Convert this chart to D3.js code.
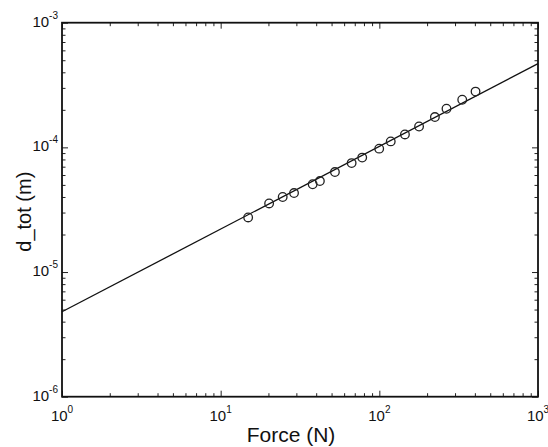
<!DOCTYPE html>
<html>
<head>
<meta charset="utf-8">
<script src="https://cdn.jsdelivr.net/npm/d3@7"></script>
<style>
  body { margin: 0; background: #fff; }
  svg { display: block; }
  text { font-family: "Liberation Sans", Arial, sans-serif; fill: #111; }
</style>
</head>
<body>
<div id="chart"></div>
<script>
// measured points: force (N) vs total displacement (m)
var forceN = [14.9, 20.2, 24.6, 29, 38, 42.2, 52.5, 66.9, 78, 99.8, 118, 145, 178, 224, 265, 333, 404];
var dTot   = [2.74e-5, 3.55e-5, 4.0e-5, 4.3e-5, 5.06e-5, 5.37e-5, 6.34e-5, 7.48e-5, 8.28e-5,
              9.77e-5, 1.117e-4, 1.27e-4, 1.47e-4, 1.75e-4, 2.04e-4, 2.41e-4, 2.8e-4];
// fitted power law line, end points
var fitF = [1, 1000];
var fitD = [4.8e-6, 4.7e-4];
// axis decades
var xDecades = [0, 1, 2, 3];
var yDecades = [-6, -5, -4, -3];

var W = 548, H = 447;
var m = { left: 62, right: 10, top: 22.7, bottom: 50.3 };
var pw = W - m.left - m.right, ph = H - m.top - m.bottom;

var svg = d3.select('#chart').append('svg').attr('width', W).attr('height', H);
var g = svg.append('g').attr('transform', 'translate(' + m.left + ',' + m.top + ')');

var x = d3.scaleLog().domain([1, 1000]).range([0, pw]);
var y = d3.scaleLog().domain([1e-6, 1e-3]).range([ph, 0]);

function minors(dec){
  var out = [];
  for (var i = 0; i < dec.length - 1; i++)
    for (var k = 2; k < 10; k++) out.push(k * Math.pow(10, dec[i]));
  return out;
}
var xMaj = xDecades.map(function(e){ return Math.pow(10, e); });
var yMaj = yDecades.map(function(e){ return Math.pow(10, e); });

function tickAxis(axisFn, scale, vals, len, tr){
  var a = g.append('g').attr('transform', tr || null)
    .call(axisFn(scale).tickValues(vals).tickSize(-len).tickFormat(''));
  a.select('.domain').remove();
  a.selectAll('line').attr('stroke', '#222').attr('stroke-width', 1);
}
tickAxis(d3.axisBottom, x, xMaj, 6, 'translate(0,' + ph + ')');
tickAxis(d3.axisBottom, x, minors(xDecades), 3.5, 'translate(0,' + ph + ')');
tickAxis(d3.axisTop, x, xMaj, 6);
tickAxis(d3.axisTop, x, minors(xDecades), 3.5);
tickAxis(d3.axisLeft, y, yMaj, 6);
tickAxis(d3.axisLeft, y, minors(yDecades), 3.5);
tickAxis(d3.axisRight, y, yMaj, 6, 'translate(' + pw + ',0)');
tickAxis(d3.axisRight, y, minors(yDecades), 3.5, 'translate(' + pw + ',0)');

// frame
g.append('rect').attr('width', pw).attr('height', ph)
  .attr('fill', 'none').attr('stroke', '#111').attr('stroke-width', 1.8);

// tick labels
xDecades.forEach(function(e){
  var t = g.append('text').attr('x', x(Math.pow(10, e))).attr('y', ph + 24)
    .attr('text-anchor', 'middle').style('font-size', '15px');
  t.append('tspan').text('10');
  t.append('tspan').attr('dy', -8).style('font-size', '10px').text(e);
});
yDecades.forEach(function(e){
  var t = g.append('text').attr('x', -4).attr('y', y(Math.pow(10, e)) + 4)
    .attr('text-anchor', 'end').style('font-size', '15px');
  t.append('tspan').text('10');
  t.append('tspan').attr('dy', -8).style('font-size', '10px').text(e);
});

// fit line
var line = d3.line().x(function(d){ return x(d[0]); }).y(function(d){ return y(d[1]); });
g.append('path').datum(d3.zip(fitF, fitD)).attr('d', line)
  .attr('fill', 'none').attr('stroke', '#111').attr('stroke-width', 1.3);

// data markers
g.selectAll('circle.pt').data(d3.zip(forceN, dTot)).enter().append('circle')
  .attr('class', 'pt')
  .attr('cx', function(d){ return x(d[0]); })
  .attr('cy', function(d){ return y(d[1]); })
  .attr('r', 4.3)
  .attr('fill', 'none').attr('stroke', '#222').attr('stroke-width', 1.3);

// axis titles
svg.append('text').attr('x', m.left + pw / 2 - 9).attr('y', 442)
  .attr('text-anchor', 'middle').style('font-size', '21px').text('Force (N)');
svg.append('text').attr('transform', 'translate(31,' + (m.top + ph / 2 + 2) + ') rotate(-90)')
  .attr('text-anchor', 'middle').style('font-size', '20px').text('d_tot (m)');
</script>
</body>
</html>
